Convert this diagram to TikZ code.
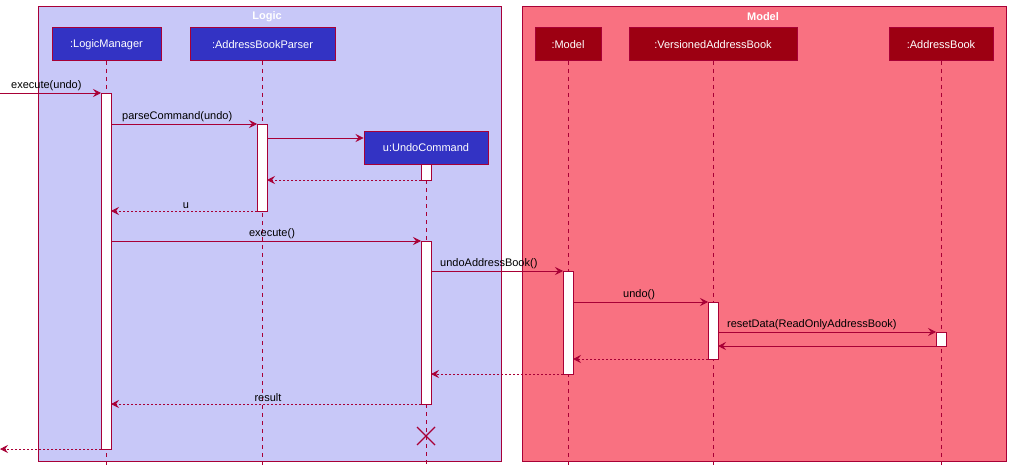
\documentclass[tikz,border=0pt]{standalone}
\usepackage{fontspec}
\setmainfont{Liberation Sans}
\usetikzlibrary{arrows.meta}
\definecolor{bd}{HTML}{A80036}
\definecolor{lbg}{HTML}{C8C8F8}
\definecolor{mbg}{HTML}{F97181}
\definecolor{lp}{HTML}{3333C4}
\definecolor{mp}{HTML}{9D0012}
\begin{document}
\begin{tikzpicture}[x=1pt,y=-1pt,font=\fontsize{11}{13}\selectfont,
 box/.style={draw=bd,line width=0.8pt},
 part/.style={draw=bd,line width=1pt,text=white,minimum height=33pt,inner xsep=5pt,anchor=center},
 life/.style={draw=bd,dash pattern=on 4pt off 4pt,line width=0.6pt},
 act/.style={draw=bd,fill=white,line width=0.8pt},
 msg/.style={draw=bd,line width=0.7pt,-{Stealth[length=8pt,width=8pt,inset=3pt]}},
 ret/.style={msg,dash pattern=on 2pt off 2pt},
 lab/.style={inner sep=1pt,anchor=south}]
\useasboundingbox (0,0) rectangle (1011,473);
\draw[box,fill=lbg] (38,6) rectangle (501,461);
\draw[box,fill=mbg] (522,6) rectangle (1006,461);
\node[text=white,font=\fontsize{11}{13}\selectfont\bfseries] (tl) at (267,17) {Logic};
\node[text=white,font=\fontsize{11}{13}\selectfont\bfseries] (tm) at (763,17) {Model};
% lifelines
\draw[life] (106,61) -- (106,467);
\draw[life] (262,61) -- (262,467);
\draw[life] (426,164) -- (426,467);
\draw[life] (568,61) -- (568,467);
\draw[life] (713,61) -- (713,467);
\draw[life] (941,61) -- (941,467);
% participants
\node[part,fill=lp,minimum width=109pt] (lm) at (106.5,44.5) {:LogicManager};
\node[part,fill=lp,minimum width=145pt] (abp) at (262.5,44.5) {:AddressBookParser};
\node[part,fill=lp,minimum width=124pt] (uc) at (426,148) {u:UndoCommand};
\node[part,fill=mp,minimum width=66pt] (mo) at (568,44.5) {:Model};
\node[part,fill=mp,minimum width=168pt] (vab) at (713,44.5) {:VersionedAddressBook};
\node[part,fill=mp,minimum width=104pt] (ab) at (941,44.5) {:AddressBook};
% activations
\draw[act] (101,93) rectangle (111,449);
\draw[act] (257,124) rectangle (267,211);
\draw[act] (421,164) rectangle (431,180);
\draw[act] (421,241) rectangle (431,404);
\draw[act] (563,271) rectangle (573,374);
\draw[act] (708,302) rectangle (718,359);
\draw[act] (936,332) rectangle (946,346);
\coordinate (s0) at (0,93);
\coordinate (e0) at (0,449);
% messages
\draw[msg] (s0) -- (101,93);
\node[lab,anchor=south west] (l1) at (10,92) {execute(undo)};
\draw[msg] (111,124) -- (257,124);
\node[lab,anchor=south west] (l2) at (121,123) {parseCommand(undo)};
\draw[msg] (267,138) -- (uc.west |- 0,138);
\draw[ret] (421,180) -- (267,180);
\draw[ret] (257,211) -- (111,211);
\node[lab] (l3) at (186,210) {u};
\draw[msg] (111,241) -- (421,241);
\node[lab] (l4) at (272,240) {execute()};
\draw[msg] (431,271) -- (563,271);
\node[lab,anchor=south west] (l5) at (439,270) {undoAddressBook()};
\draw[msg] (573,302) -- (708,302);
\node[lab,anchor=south west] (l6) at (622,301) {undo()};
\draw[msg] (718,332) -- (936,332);
\node[lab,anchor=south west] (l7) at (726,331) {resetData(ReadOnlyAddressBook)};
\draw[msg] (936,346) -- (718,346);
\draw[ret] (708,359) -- (573,359);
\draw[ret] (563,374) -- (431,374);
\draw[ret] (421,404) -- (111,404);
\node[lab] (l8) at (268,403) {result};
\draw[ret] (101,449) -- (e0);
\draw[bd,line width=1.2pt] (417,427) -- (435,445) (417,445) -- (435,427);
\end{tikzpicture}
\end{document}
